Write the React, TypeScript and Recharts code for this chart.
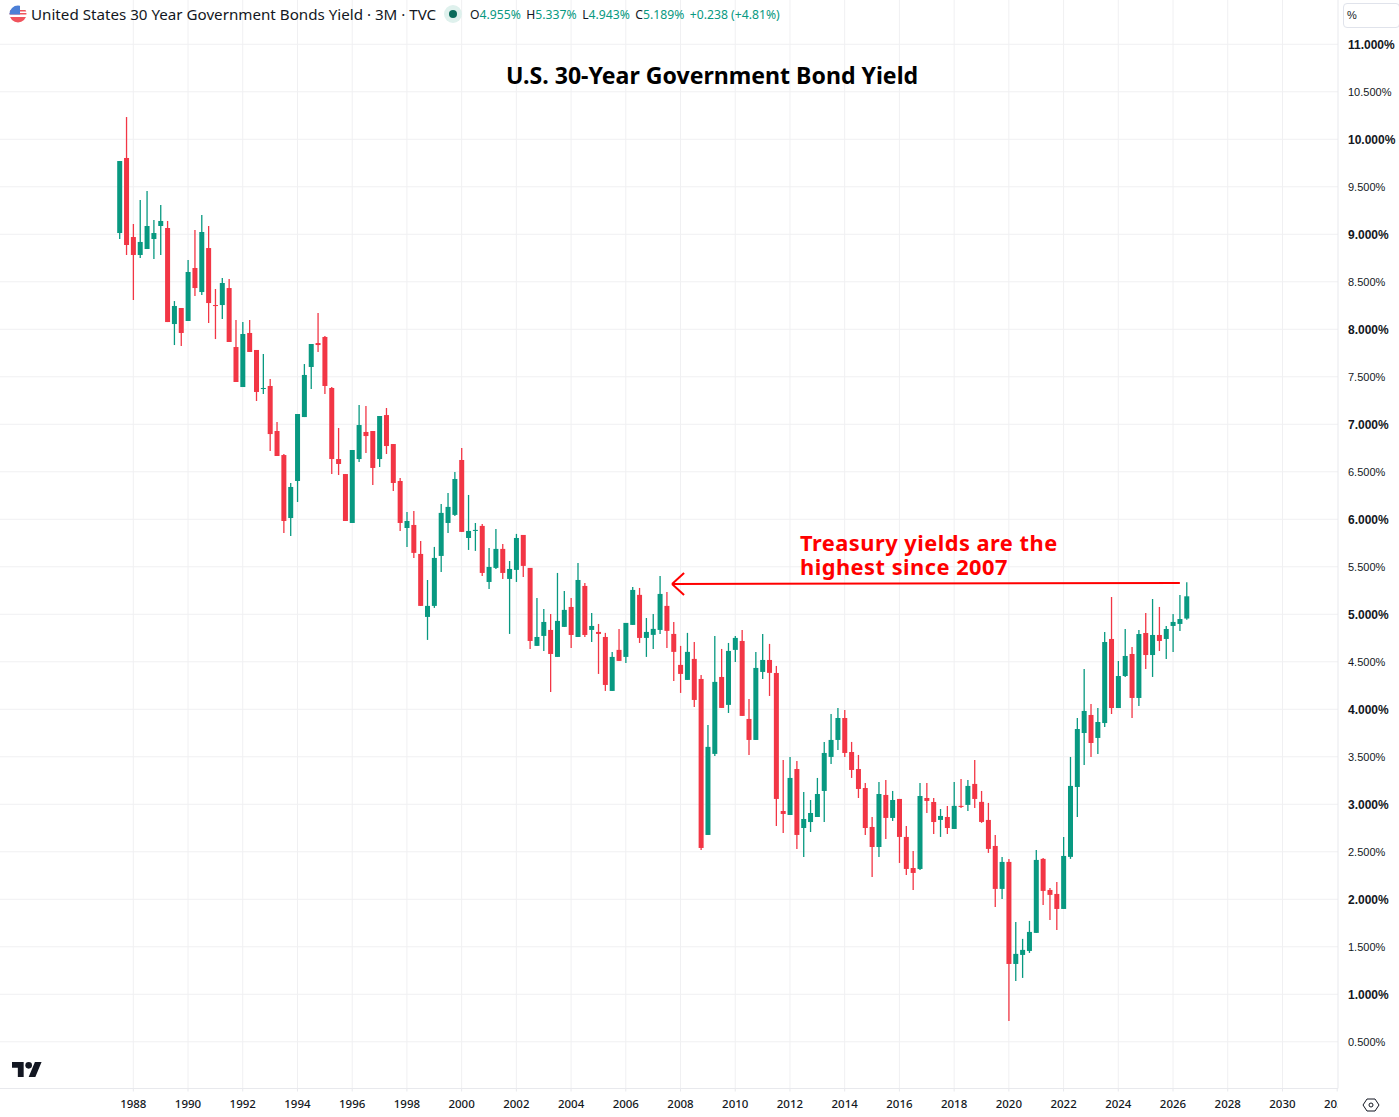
import { ComposedChart, Bar, XAxis, YAxis, CartesianGrid, ReferenceLine } from "recharts";

const opens = [
  9.013, 9.803, 8.971, 8.782, 8.845, 8.95, 9.087, 9.066, 8.055, 8.224,
  8.087, 8.645, 8.392, 8.855, 8.255, 8.255, 8.434, 7.813, 7.392, 7.961,
  7.782, 7.371, 7.403, 6.929, 6.676, 6.013, 6.403, 7.076, 7.603, 7.855,
  7.919, 7.382, 6.634, 6.476, 5.961, 6.634, 6.919, 6.929, 6.634, 7.097,
  6.792, 6.403, 5.908, 5.94, 5.635, 4.972, 5.088, 5.614, 5.961, 6.046,
  6.624, 5.803, 5.877, 5.93, 5.34, 5.488, 5.688, 5.372, 5.467, 5.835,
  5.488, 4.667, 4.772, 4.835, 4.551, 4.867, 5.077, 4.761, 5.298, 4.835,
  4.814, 4.761, 4.193, 4.625, 4.551, 4.888, 5.204, 4.751, 4.783, 4.835,
  5.088, 4.793, 4.467, 4.309, 4.53, 4.319, 2.677, 3.53, 4.34, 4.046,
  4.625, 4.719, 3.898, 3.677, 4.393, 4.519, 4.382, 2.929, 2.887, 3.371,
  2.75, 2.813, 2.866, 3.14, 3.498, 3.677, 3.908, 3.55, 3.371, 3.171,
  2.761, 2.55, 3.098, 2.856, 3.056, 2.656, 2.329, 2.319, 3.066, 3.024,
  2.835, 2.866, 2.74, 2.983, 2.993, 3.214, 3.025, 2.835, 2.561, 2.109,
  2.393, 1.319, 1.414, 1.456, 1.646, 2.425, 2.098, 2.056, 1.898, 2.446,
  3.182, 3.75, 3.94, 3.698, 3.855, 4.74, 4.013, 4.35, 4.582, 4.119,
  4.803, 4.571, 4.782, 4.74, 4.877, 4.898, 4.955,
];

const highs = [
  9.771, 10.234, 9.108, 9.361, 9.455, 9.15, 9.308, 9.14, 8.297, 8.224,
  8.729, 9.045, 9.203, 9.087, 8.424, 8.54, 8.529, 8.097, 8.076, 8.097,
  7.782, 7.74, 7.476, 7.024, 6.687, 6.382, 7.108, 7.634, 7.845, 8.171,
  7.929, 7.392, 6.961, 6.476, 6.729, 7.203, 7.192, 6.929, 7.087, 7.171,
  6.792, 6.434, 6.076, 6.088, 5.772, 5.361, 5.709, 6.161, 6.277, 6.498,
  6.751, 6.256, 5.961, 5.951, 5.698, 5.898, 5.74, 5.561, 5.846, 5.835,
  5.488, 5.172, 5.056, 5.003, 5.435, 5.246, 5.172, 5.54, 5.33, 5.014,
  4.898, 4.804, 4.604, 4.846, 4.909, 5.288, 5.277, 4.961, 5.004, 5.404,
  5.235, 4.919, 4.667, 4.804, 4.709, 4.361, 3.835, 4.772, 4.635, 4.698,
  4.772, 4.835, 4.109, 4.604, 4.793, 4.688, 4.456, 3.466, 3.498, 3.456,
  3.129, 3.045, 3.277, 3.656, 3.95, 4.013, 3.992, 3.656, 3.519, 3.224,
  2.866, 3.235, 3.256, 3.14, 3.056, 2.771, 2.508, 3.224, 3.224, 3.066,
  2.95, 2.982, 3.235, 3.267, 3.256, 3.467, 3.14, 3.014, 2.677, 2.446,
  2.425, 1.761, 1.583, 1.772, 2.519, 2.435, 2.119, 2.183, 2.656, 3.498,
  3.908, 4.424, 4.055, 4.013, 4.813, 5.182, 4.508, 4.845, 4.655, 4.834,
  5.013, 5.161, 5.077, 4.877, 5.003, 5.203, 5.337,
];

const lows = [
  8.95, 8.782, 8.308, 8.75, 8.845, 8.74, 8.782, 8.076, 7.834, 7.824,
  8.087, 8.35, 8.361, 8.066, 7.897, 8.108, 7.866, 7.445, 7.392, 7.761,
  7.245, 7.319, 6.719, 6.666, 5.855, 5.824, 6.182, 7.076, 7.371, 7.761,
  7.319, 6.476, 6.466, 5.982, 5.961, 6.603, 6.697, 6.361, 6.55, 6.687,
  6.297, 5.876, 5.708, 5.593, 5.088, 4.73, 5.067, 5.446, 5.856, 6.035,
  5.867, 5.677, 5.667, 5.403, 5.267, 5.477, 5.372, 4.793, 5.34, 5.393,
  4.635, 4.667, 4.614, 4.182, 4.551, 4.867, 4.646, 4.761, 4.761, 4.709,
  4.372, 4.193, 4.193, 4.509, 4.488, 4.888, 4.698, 4.551, 4.635, 4.793,
  4.646, 4.298, 4.172, 4.309, 4.025, 2.519, 2.677, 3.509, 4.014, 3.961,
  4.498, 3.93, 3.519, 3.677, 4.319, 4.14, 2.771, 2.698, 2.887, 2.529,
  2.445, 2.708, 2.866, 2.813, 3.424, 3.571, 3.498, 3.277, 3.066, 2.677,
  2.235, 2.445, 2.635, 2.824, 2.382, 2.256, 2.098, 2.308, 2.908, 2.687,
  2.656, 2.687, 2.74, 2.961, 2.93, 2.961, 2.804, 2.488, 1.919, 2.004,
  0.719, 1.14, 1.172, 1.435, 1.646, 1.94, 1.783, 1.677, 1.898, 2.425,
  2.867, 3.413, 3.498, 3.529, 3.813, 3.95, 4.013, 4.34, 3.908, 4.034,
  4.424, 4.34, 4.613, 4.529, 4.603, 4.824, 4.943,
];

const closes = [
  9.771, 8.887, 8.782, 8.919, 9.087, 9.013, 9.14, 8.076, 8.245, 7.961,
  8.603, 8.434, 9.024, 8.276, 8.245, 8.487, 7.866, 7.445, 7.95, 7.761,
  7.34, 7.382, 6.897, 6.666, 5.982, 6.34, 7.108, 7.519, 7.845, 7.834,
  7.403, 6.634, 6.582, 5.982, 6.729, 6.992, 6.876, 6.54, 7.087, 6.771,
  6.382, 5.961, 5.982, 5.646, 5.088, 5.088, 5.593, 6.067, 6.13, 6.424,
  5.867, 5.877, 5.888, 5.435, 5.498, 5.688, 5.435, 5.477, 5.803, 5.509,
  4.719, 4.761, 4.919, 4.582, 4.93, 5.046, 4.782, 5.361, 4.782, 4.877,
  4.793, 4.256, 4.551, 4.509, 4.909, 5.256, 4.751, 4.814, 4.846, 5.214,
  4.825, 4.604, 4.372, 4.604, 4.098, 2.54, 3.604, 4.288, 4.014, 4.614,
  4.751, 3.93, 3.677, 4.435, 4.519, 4.383, 3.056, 2.898, 3.277, 2.677,
  2.845, 2.908, 3.108, 3.54, 3.677, 3.908, 3.54, 3.361, 3.161, 2.75,
  2.55, 3.108, 2.856, 3.045, 2.656, 2.319, 2.277, 3.087, 3.035, 2.813,
  2.877, 2.75, 2.983, 2.972, 3.193, 3.056, 2.814, 2.53, 2.109, 2.393,
  1.319, 1.425, 1.467, 1.656, 2.414, 2.088, 2.046, 1.898, 2.456, 3.193,
  3.792, 3.982, 3.645, 3.866, 4.708, 4.013, 4.35, 4.561, 4.119, 4.792,
  4.571, 4.782, 4.719, 4.845, 4.919, 4.95, 5.189,
];

const xTicks = [
  1988, 1990, 1992, 1994, 1996, 1998, 2000, 2002, 2004, 2006, 2008, 2010, 2012,
  2014, 2016, 2018, 2020, 2022, 2024, 2026, 2028, 2030, 2032,
];
const gridYears = [
  1988, 1990, 1992, 1994, 1996, 1998, 2000, 2002, 2004, 2006, 2008, 2010, 2012,
  2014, 2016, 2018, 2020, 2022, 2024, 2026, 2028, 2030,
];
const yTicks = [
  0.5, 1, 1.5, 2, 2.5, 3, 3.5, 4, 4.5, 5, 5.5, 6, 6.5, 7, 7.5, 8, 8.5, 9, 9.5,
  10, 10.5, 11,
];

// arrow: shaft + the two strokes of the head, [year, yield]
const arrowShaft = [[2026.25, 5.33], [2007.69, 5.319]];
const arrowHeadUp = [[2007.69, 5.319], [2008.13, 5.435]];
const arrowHeadDown = [[2007.69, 5.319], [2008.13, 5.203]];

const legendValues = [
  ["O", "4.955%"],
  ["H", "5.337%"],
  ["L", "4.943%"],
  ["C", "5.189%"],
];

const UP = "#089981";
const DOWN = "#F23645";
const GRID = "#f0f0f2";
const AXIS = "#e8e9ed";
const LABEL_FONT = "'Noto Sans', sans-serif";
const PRICE_FONT = "'Liberation Sans', sans-serif";

// first bar is 1987 Q3
const chartData = opens.map((open, i) => ({
  t: 1987.5 + i * 0.25,
  open,
  high: highs[i],
  low: lows[i],
  close: closes[i],
  range: [lows[i], highs[i]],
}));

function Candle(props: any) {
  const { x, y, width, height, payload } = props;
  const { open, high, low, close } = payload;
  const color = close >= open ? UP : DOWN;
  const k = height / (high - low);
  const top = y + (high - Math.max(open, close)) * k;
  const bodyH = Math.max(Math.abs(open - close) * k, 1);
  const cx = x + width / 2;
  return (
    <g>
      <line x1={cx} x2={cx} y1={y} y2={y + height} stroke={color} strokeWidth={1.3} />
      <rect x={cx - 2.5} y={top} width={5} height={bodyH} fill={color} />
    </g>
  );
}

function XTick(props: any) {
  const { x, y, payload } = props;
  return (
    <g>
      <clipPath id={`xt-${payload.value}`}>
        <rect x={0} y={1090} width={1338} height={27} />
      </clipPath>
      <text
        x={x}
        y={y}
        dy={14.5}
        textAnchor="middle"
        fontFamily={LABEL_FONT}
        fontSize={11.5}
        fontWeight={500}
        fill="#131722"
        clipPath={`url(#xt-${payload.value})`}
      >
        {payload.value}
      </text>
    </g>
  );
}

function YTick(props: any) {
  const { y, payload } = props;
  const major = Number.isInteger(payload.value);
  return (
    <text
      x={1348}
      y={y}
      dy={major ? 4.5 : 4}
      fontFamily={PRICE_FONT}
      fontSize={major ? 12 : 11}
      fontWeight={major ? 700 : 400}
      fill="#131722"
    >
      {payload.value.toFixed(3)}%
    </text>
  );
}

function Flag() {
  return (
    <svg width={18} height={18} viewBox="0 0 18 18" style={{ position: "absolute", left: 9, top: 5 }}>
      <clipPath id="flag">
        <circle cx={9} cy={9} r={8.5} />
      </clipPath>
      <g clipPath="url(#flag)">
        <rect width={18} height={18} fill="#fff" />
        <rect y={12} width={18} height={6} fill="#f0535c" />
        <rect y={8} width={18} height={1.5} fill="#f0535c" />
        <rect y={5} width={18} height={1.5} fill="#f0535c" />
        <rect width={11} height={9.5} fill="#4c7fd6" />
      </g>
    </svg>
  );
}

function Header() {
  return (
    <div
      style={{
        position: "absolute",
        left: 31,
        top: 5,
        height: 19,
        lineHeight: "19px",
        fontFamily: LABEL_FONT,
        whiteSpace: "nowrap",
      }}
    >
      <span style={{ position: "absolute", left: 0, fontSize: 15.17, color: "#131722" }}>
        United States 30 Year Government Bonds Yield · 3M · TVC
      </span>
      <span style={{ position: "absolute", left: 439, fontSize: 12.2, color: "#131722" }}>
        {legendValues.map(([k, v]) => (
          <span key={k} style={{ marginRight: 5.5 }}>
            {k}
            <span style={{ color: UP }}>{v}</span>
          </span>
        ))}
        <span style={{ color: UP }}>+0.238 (+4.81%)</span>
      </span>
    </div>
  );
}

function Annotation() {
  return (
    <div
      style={{
        position: "absolute",
        left: 800,
        top: 531,
        fontFamily: LABEL_FONT,
        fontWeight: 700,
        fontSize: 21.8,
        letterSpacing: 0.49,
        lineHeight: "24px",
        color: "#ff0000",
        whiteSpace: "nowrap",
      }}
    >
      Treasury yields are the
      <br />
      highest since 2007
    </div>
  );
}

export default function App() {
  return (
    <div style={{ position: "absolute", left: 0, top: 0, width: 1399, height: 1117, background: "#fff", overflow: "hidden" }}>
      <ComposedChart
        width={1399}
        height={1117}
        data={chartData}
        margin={{ top: 0, right: 0, bottom: 0, left: 0 }}
      >
        <CartesianGrid stroke={GRID} strokeWidth={1} horizontalValues={yTicks} verticalValues={gridYears} />
        <XAxis
          dataKey="t"
          type="number"
          domain={[1983.128, 2032.03]}
          ticks={xTicks}
          height={28.5}
          stroke={AXIS}
          tickSize={3}
          tick={<XTick />}
          interval={0}
          allowDataOverflow
        />
        <YAxis
          orientation="right"
          type="number"
          domain={[0.008, 11.466]}
          ticks={yTicks}
          width={61}
          stroke={AXIS}
          tickLine={false}
          tick={<YTick />}
          interval={0}
          allowDataOverflow
        />
        <Bar dataKey="range" barSize={5} shape={<Candle />} isAnimationActive={false} />
        {[arrowShaft, arrowHeadUp, arrowHeadDown].map((seg, i) => (
          <ReferenceLine
            key={i}
            segment={seg.map(([x, y]) => ({ x, y }))}
            stroke="#ff0000"
            strokeWidth={2}
          />
        ))}
      </ComposedChart>

      <Flag />
      <Header />
      <svg width={18} height={18} style={{ position: "absolute", left: 444, top: 5 }}>
        <circle cx={9} cy={9} r={9} fill="#dff1ed" />
        <circle cx={9} cy={9} r={4} fill="#0a6b5b" />
      </svg>

      <div
        style={{
          position: "absolute",
          left: 506,
          top: 59,
          fontFamily: LABEL_FONT,
          fontWeight: 700,
          fontSize: 23.1,
          lineHeight: "32px",
          color: "#000",
          whiteSpace: "nowrap",
        }}
      >
        U.S. 30-Year Government Bond Yield
      </div>
      <Annotation />

      <div
        style={{
          position: "absolute",
          left: 1343,
          top: 3,
          width: 52,
          height: 23,
          border: "1px solid #e0e3eb",
          borderRadius: 4,
          background: "#fff",
          fontFamily: PRICE_FONT,
          fontSize: 11,
          lineHeight: "23px",
          paddingLeft: 3,
          boxSizing: "content-box",
          color: "#131722",
        }}
      >
        %
      </div>

      <svg width={30} height={15} viewBox="0 4 36 18" style={{ position: "absolute", left: 12, top: 1062 }}>
        <path d="M14 22H7V11H0V4h14v18zM28 22h-8l7.5-18h8L28 22z" fill="#131722" />
        <circle cx={20} cy={8} r={4} fill="#131722" />
      </svg>

      <svg width={18} height={16} viewBox="0 0 18 16" style={{ position: "absolute", left: 1362, top: 1097 }}>
        <path d="M5 2h8l4 6-4 6H5L1 8z" fill="none" stroke="#131722" strokeWidth={1} />
        <circle cx={9} cy={8} r={2} fill="none" stroke="#131722" strokeWidth={1} />
      </svg>
    </div>
  );
}
